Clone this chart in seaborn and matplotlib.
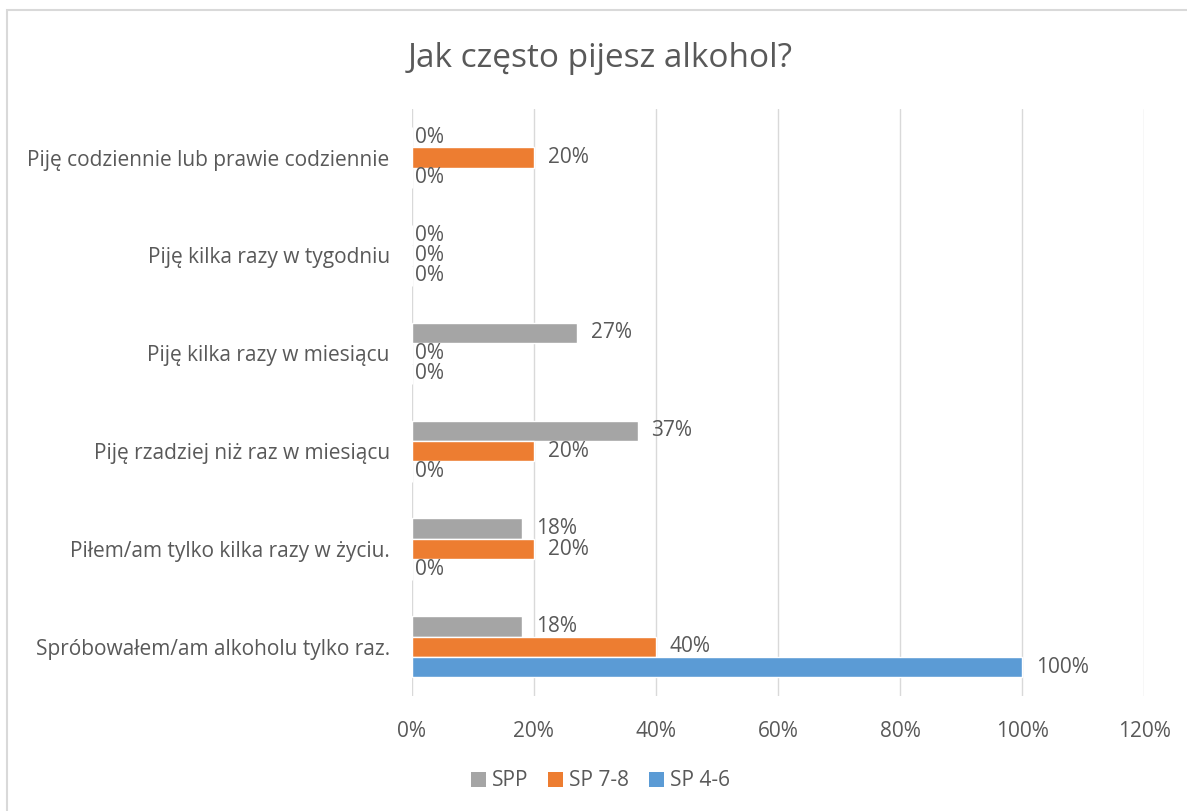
import numpy as np
import pandas as pd
import matplotlib
matplotlib.use("Agg")
import matplotlib.pyplot as plt
import seaborn as sns
from matplotlib.patches import Rectangle, Patch
from matplotlib.ticker import FuncFormatter

categories = [
    "Piję codziennie lub prawie codziennie",
    "Piję kilka razy w tygodniu",
    "Piję kilka razy w miesiącu",
    "Piję rzadziej niż raz w miesiącu",
    "Piłem/am tylko kilka razy w życiu.",
    "Spróbowałem/am alkoholu tylko raz.",
]
series = ["SPP", "SP 7-8", "SP 4-6"]
spp = [0, 0, 27, 37, 18, 18]
sp78 = [20, 0, 0, 20, 20, 40]
sp46 = [0, 0, 0, 0, 0, 100]
x_ticks = [0, 20, 40, 60, 80, 100, 120]

colors = ["#A5A5A5", "#ED7D31", "#5B9BD5"]
text_col = "#595959"

df = pd.DataFrame({
    "category": categories * 3,
    "series": np.repeat(series, len(categories)),
    "value": spp + sp78 + sp46,
})

sns.set_style("white")
plt.rcParams["font.family"] = ["Open Sans", "DejaVu Sans"]

fig = plt.figure(figsize=(11.87, 8.11), dpi=100)
ax = fig.add_axes([0.347, 0.142, 0.6168, 0.724])

sns.barplot(data=df, y="category", x="value", hue="series", order=categories,
            hue_order=series, palette=colors, orient="h", width=0.625,
            gap=0, saturation=1, ax=ax, legend=False)

# data labels, Excel style
for cont in ax.containers:
    for bar in cont:
        v = bar.get_width()
        y = bar.get_y() + bar.get_height() / 2
        pad = 10 if v > 0 else 2
        ax.annotate(f"{v:.0f}%", xy=(v, y), xytext=(pad, 0),
                    textcoords="offset points", va="center", ha="left",
                    fontsize=15, color=text_col)

ax.set_xlim(0, 120)
ax.set_xticks(x_ticks)
ax.xaxis.set_major_formatter(FuncFormatter(lambda v, p: f"{v:.0f}%"))
ax.grid(axis="x", color="#D9D9D9", linewidth=1)
ax.set_axisbelow(True)
sns.despine(ax=ax, left=True, bottom=True)
ax.tick_params(axis="both", length=0, labelsize=15, labelcolor=text_col)
ax.tick_params(axis="x", pad=18)
ax.tick_params(axis="y", pad=16)
ax.set_xlabel("")
ax.set_ylabel("")

fig.text(0.506, 0.928, "Jak często pijesz alkohol?", ha="center", va="center",
         fontsize=24, color=text_col)

handles = [Patch(facecolor=c, edgecolor="none") for c in colors]
fig.legend(handles, series, loc="center", bbox_to_anchor=(0.506, 1 - 781 / 811),
           ncol=3, frameon=False, fontsize=15, labelcolor=text_col,
           handlelength=0.7, handleheight=0.7, handletextpad=0.3, columnspacing=0.95)

# chart area border (only top/left visible in crop)
fig.patches.append(Rectangle((7 / 1187, -0.1), 1.2, 1 - 10 / 811 + 0.1,
                             transform=fig.transFigure, fill=False,
                             edgecolor="#D9D9D9", linewidth=1.5))

fig.savefig("out.png", dpi=100)
